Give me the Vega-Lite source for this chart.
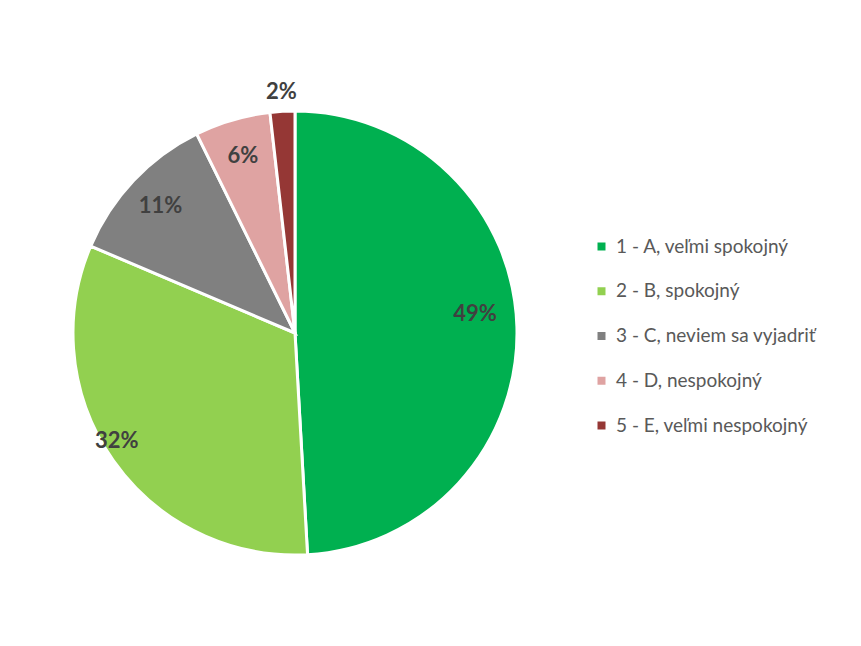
{
  "$schema": "https://vega.github.io/schema/vega-lite/v6.json",
  "width": 590,
  "height": 626,
  "autosize": "none",
  "padding": {"left": 0, "top": 20, "right": 271, "bottom": 0},
  "background": "white",
  "config": {"view": {"stroke": null}},
  "data": {
    "values": [
      {"id": 1, "category": "1 - A, veľmi spokojný", "share": 0.491},
      {"id": 2, "category": "2 - B, spokojný", "share": 0.323},
      {"id": 3, "category": "3 - C, neviem sa vyjadriť", "share": 0.113},
      {"id": 4, "category": "4 - D, nespokojný", "share": 0.055},
      {"id": 5, "category": "5 - E, veľmi nespokojný", "share": 0.018}
    ]
  },
  "encoding": {
    "theta": {"field": "share", "type": "quantitative", "stack": true},
    "order": {"field": "id", "type": "quantitative"}
  },
  "layer": [
    {
      "mark": {"type": "arc", "outerRadius": 222, "stroke": "white", "strokeWidth": 3},
      "encoding": {
        "color": {
          "field": "category",
          "type": "nominal",
          "sort": ["1 - A, veľmi spokojný", "2 - B, spokojný", "3 - C, neviem sa vyjadriť", "4 - D, nespokojný", "5 - E, veľmi nespokojný"],
          "scale": {
            "domain": ["1 - A, veľmi spokojný", "2 - B, spokojný", "3 - C, neviem sa vyjadriť", "4 - D, nespokojný", "5 - E, veľmi nespokojný"],
            "range": ["#00B050", "#92D050", "#808080", "#DFA3A2", "#953735"]
          },
          "legend": {
            "title": null,
            "orient": "none",
            "legendX": 592,
            "legendY": 217,
            "padding": 0,
            "symbolType": "square",
            "symbolSize": 64,
            "symbolStrokeWidth": 0,
            "labelFont": "Lato",
            "labelFontSize": 19,
            "labelColor": "#595959",
            "labelOffset": 5,
            "labelLimit": 400,
            "rowPadding": 24.75
          }
        }
      }
    },
    {
      "mark": {"type": "text", "radius": 180, "dy": -14, "font": "Lato", "fontWeight": "bold", "fontSize": 22, "color": "#404040"},
      "encoding": {
        "text": {"condition": {"test": "datum.id == 1", "field": "share", "type": "quantitative", "format": ".0%"}, "value": ""}
      }
    },
    {
      "mark": {"type": "text", "radius": 185, "font": "Lato", "fontWeight": "bold", "fontSize": 22, "color": "#404040"},
      "encoding": {
        "text": {"condition": {"test": "datum.id == 3 || datum.id == 4", "field": "share", "type": "quantitative", "format": ".0%"}, "value": ""}
      }
    },
    {
      "mark": {"type": "text", "radius": 208, "dx": -8, "dy": -12, "font": "Lato", "fontWeight": "bold", "fontSize": 22, "color": "#404040"},
      "encoding": {
        "text": {"condition": {"test": "datum.id == 2", "field": "share", "type": "quantitative", "format": ".0%"}, "value": ""}
      }
    },
    {
      "mark": {"type": "text", "radius": 241, "font": "Lato", "fontWeight": "bold", "fontSize": 22, "color": "#404040"},
      "encoding": {
        "text": {"condition": {"test": "datum.id == 5", "field": "share", "type": "quantitative", "format": ".0%"}, "value": ""}
      }
    }
  ]
}
